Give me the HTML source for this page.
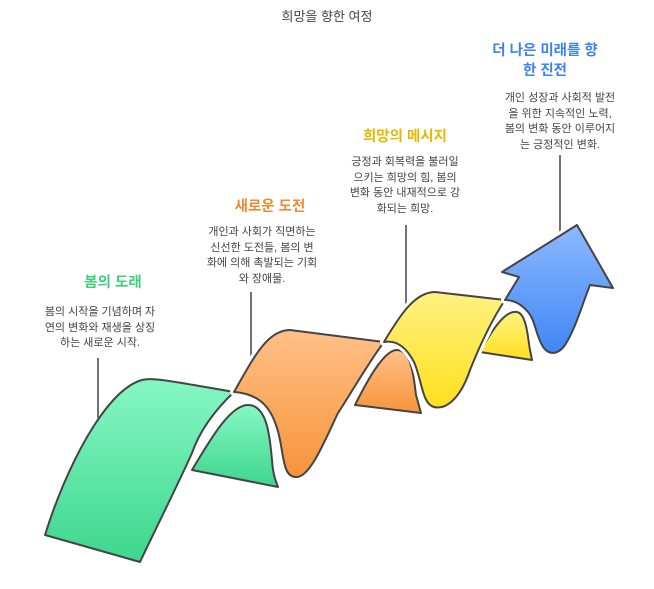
<!DOCTYPE html>
<html><head><meta charset="utf-8"><style>
html,body{margin:0;padding:0;background:#fff;}
body{width:654px;height:589px;position:relative;overflow:hidden;font-family:"Liberation Sans","Noto Sans CJK KR",sans-serif;}
.t{position:absolute;text-align:center;white-space:nowrap;}
.d{font-size:11px;line-height:15.6px;color:#444;}
.h{font-size:14.5px;font-weight:bold;line-height:20px;}
</style></head><body>
<svg width="654" height="589" style="position:absolute;left:0;top:0">
<defs>
<linearGradient id="g" x1="0" y1="0" x2="0" y2="1"><stop offset="0" stop-color="#86f7c4"/><stop offset="1" stop-color="#3dd68c"/></linearGradient>
<linearGradient id="o" x1="0" y1="0" x2="0" y2="1"><stop offset="0" stop-color="#ffc088"/><stop offset="1" stop-color="#f7943a"/></linearGradient>
<linearGradient id="y" x1="0" y1="0" x2="0" y2="1"><stop offset="0" stop-color="#fff182"/><stop offset="1" stop-color="#ffe01e"/></linearGradient>
<linearGradient id="b" x1="0" y1="0" x2="0" y2="1"><stop offset="0" stop-color="#8cbaff"/><stop offset="1" stop-color="#4186f5"/></linearGradient>
</defs>
<g stroke="#444" stroke-width="1.5">
<line x1="98" y1="358" x2="98" y2="418"/>
<line x1="251" y1="292" x2="251" y2="362"/>
<line x1="406" y1="225" x2="406" y2="306"/>
<line x1="560" y1="155" x2="560" y2="236"/>
</g>
<g stroke-linejoin="round">
<path d="M192,470 C210,440 230,405 248,405 C268,405 270,440 272,460 C273,475 276,482 278,487 Z" fill="url(#g)" stroke="#444" stroke-width="2"/>
<path d="M355,405 C370,375 385,350 397,350 C412,350 414,380 416,395 L421,413 Z" fill="url(#o)" stroke="#444" stroke-width="2"/>
<path d="M480,352 C492,330 505,310 517,312 C527,314 528,340 530,350 L532,360 Z" fill="url(#y)" stroke="#444" stroke-width="2"/>
<path d="M45,535 C65,470 105,390 142,380 C152,377 170,381 234,392 C215,410 200,430 192,453 C180,480 160,520 140,562 Z" fill="url(#g)" stroke="#444" stroke-width="2"/>
<path d="M234,392 C255,355 268,330 290,330 L384,342 C370,360 350,395 338,413 C325,440 310,478 296,477 C284,477 284,460 280,440 C274,410 262,394 234,392 Z" fill="url(#o)" stroke="#fff" stroke-width="8"/>
<path d="M234,392 C255,355 268,330 290,330 L384,342 C370,360 350,395 338,413 C325,440 310,478 296,477 C284,477 284,460 280,440 C274,410 262,394 234,392 Z" fill="url(#o)" stroke="#444" stroke-width="2"/>
<path d="M384,342 C400,315 415,292 435,292 L505,300 C495,315 482,340 470,370 C460,400 445,410 434,407 C422,404 422,380 414,362 C405,345 395,340 384,342 Z" fill="url(#y)" stroke="#fff" stroke-width="8"/>
<path d="M384,342 C400,315 415,292 435,292 L505,300 C495,315 482,340 470,370 C460,400 445,410 434,407 C422,404 422,380 414,362 C405,345 395,340 384,342 Z" fill="url(#y)" stroke="#444" stroke-width="2"/>
<path d="M505,300 L519,277 L502,272 L577,225 L613,288 L590,285 C582,305 575,330 565,345 C558,355 548,356 542,345 C536,335 535,320 528,312 C522,305 514,300 505,300 Z" fill="url(#b)" stroke="#fff" stroke-width="8"/>
<path d="M505,300 L519,277 L502,272 L577,225 L613,288 L590,285 C582,305 575,330 565,345 C558,355 548,356 542,345 C536,335 535,320 528,312 C522,305 514,300 505,300 Z" fill="url(#b)" stroke="#444" stroke-width="2"/>
</g>
</svg>
<div class="t" style="left:0;width:654px;top:6px;font-size:13px;color:#444;">희망을 향한 여정</div>

<div class="t h" style="left:470px;width:150px;top:41px;color:#3b82f6;">더 나은 미래를 향<br>한 진전</div>
<div class="t d" style="left:470px;width:180px;top:91px;">개인 성장과 사회적 발전<br>을 위한 지속적인 노력,<br>봄의 변화 동안 이루어지<br>는 긍정적인 변화.</div>

<div class="t h" style="left:330px;width:150px;top:127px;color:#e5b800;">희망의 메시지</div>
<div class="t d" style="left:315px;width:180px;top:155px;">긍정과 회복력을 불러일<br>으키는 희망의 힘, 봄의<br>변화 동안 내재적으로 강<br>화되는 희망.</div>

<div class="t h" style="left:195px;width:150px;top:197px;color:#f08a30;">새로운 도전</div>
<div class="t d" style="left:172px;width:180px;top:225px;">개인과 사회가 직면하는<br>신선한 도전들, 봄의 변<br>화에 의해 촉발되는 기회<br>와 장애물.</div>

<div class="t h" style="left:38px;width:150px;top:273px;color:#3ecf7a;">봄의 도래</div>
<div class="t d" style="left:10px;width:180px;top:305px;">봄의 시작을 기념하며 자<br>연의 변화와 재생을 상징<br>하는 새로운 시작.</div>
</body></html>
